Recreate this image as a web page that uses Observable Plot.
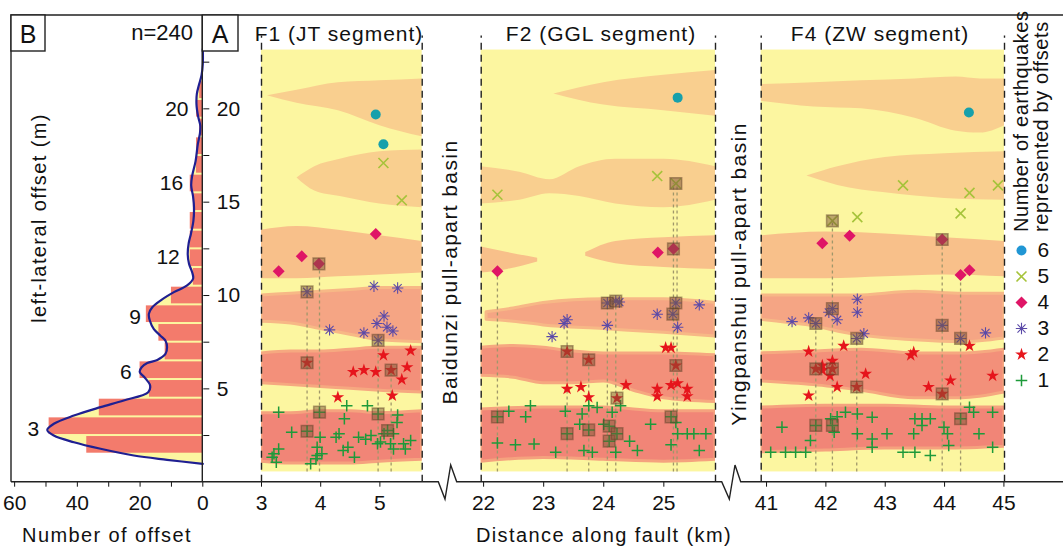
<!DOCTYPE html>
<html><head><meta charset="utf-8">
<script src="https://cdn.jsdelivr.net/npm/d3@7"></script>
<script src="https://cdn.jsdelivr.net/npm/@observablehq/plot@0.6"></script>
<style>
body{margin:0;background:#fff;}
#fig{position:relative;width:1063px;height:547px;overflow:hidden;background:#fff;}
</style></head>
<body><div id="fig"></div>
<script>
// ================= DATA =================
// Panel B: histogram of offsets (1-m bins centred on integer offsets)
const binOffsets = [2,3,4,5,6,7,8,9,10,11,12,13,14,15,16,17,18,19,20,21];
const binCounts  = [37,49,33,17,20,12,14,18,10,3,4,4,4,3,4,2,2,1,2,1];
// Panel B: cumulative-offset probability curve (offset m, count scale)
const curveOffset = [0.98,1.2,1.43,1.79,2.14,2.5,2.8,3.13,3.57,4.02,4.38,4.82,5.18,5.62,5.9,6.16,6.38,6.55,6.87,7.23,7.58,7.85,8.2,8.66,9.02,9.37,9.73,10.18,10.54,10.9,11.25,11.7,12.2,12.8,13.3,14.0,14.7,15.3,15.9,16.4,17.2,18.1,18.7,19.1,19.6,20.2,20.8,21.3,21.8,22.4,23.2];
const curveCount  = [0,11.4,22,32.6,41.1,47.5,49.6,47.5,41.1,32.6,25.2,17.4,16.8,18.6,20.1,19.5,17.7,14.5,11.9,11.4,11.9,13.5,15.6,16.9,17.2,16.1,13.5,9.2,5.0,3.1,3.4,4.4,4.8,4.5,3.8,3.0,2.8,3.1,3.7,3.4,2.3,1.6,0.9,0.8,1.5,2.0,1.9,1.2,0.4,0,0];
const peakLabels  = ["3","6","9","12","16","20"];
const peakOffsets = [2.85,5.9,8.85,12.05,16.0,20.0];
const peakCounts  = [49.6,20.1,17.2,4.8,3.7,2.0];
const sampleSize = 240;

// Panel A: segments
const segNames = ["F1 (JT segment)","F2 (GGL segment)","F4 (ZW segment)"];
const segStart = [3.0, 21.96, 40.91];
const segEnd   = [5.715, 25.86, 45.01];
const segTicks = [[3,4,5],[22,23,24,25],[41,42,43,44,45]];
const mapBottom = 0.55, mapTop = 23.15, dashTop = 23.9;

// density bands: [km, lower offset, upper offset]
const f1Bands = [
 {level:"o1", pts:[[3.1,20.7,20.7],[3.6,20.3,21.0],[4.3,19.9,21.4],[5.0,19.1,21.5],[5.715,18.5,21.6]]},
 {level:"o1", pts:[[3.6,16.3,16.3],[3.9,15.6,16.9],[4.33,15.3,17.3],[5.0,14.9,17.7],[5.715,14.7,17.8]]},
 {level:"o2", pts:[[3.0,10.9,13.5],[3.6,10.9,13.7],[4.3,11.0,13.5],[5.0,11.1,13.2],[5.715,11.2,12.9]]},
 {level:"o3", pts:[[3.0,8.6,10.0],[3.5,8.5,10.1],[4.0,8.2,10.2],[4.5,7.9,10.3],[5.0,7.6,10.4],[5.715,7.5,10.4]]},
 {level:"r1", pts:[[3.0,5.3,6.9],[3.5,5.2,7.0],[4.0,5.1,7.0],[4.5,5.0,7.1],[5.0,4.9,7.2],[5.715,4.8,7.2]]},
 {level:"r2", pts:[[3.0,1.1,3.7],[3.5,1.0,3.7],[4.0,1.0,3.8],[4.5,1.0,3.8],[5.0,1.1,3.7],[5.715,1.2,3.8]]}
];
const f2Bands = [
 {level:"o1", pts:[[23.17,20.8,20.8],[24.0,20.2,21.4],[25.0,19.9,21.8],[25.86,19.6,22.05]]},
 {level:"o1", pts:[[21.96,14.9,16.9],[22.6,15.1,16.6],[23.1,15.45,16.2],[23.6,15.3,16.9],[24.2,14.9,17.3],[25.0,14.7,17.3],[25.86,15.1,16.9]]},
 {level:"o2", pts:[[21.96,11.2,12.6],[22.4,11.4,12.3],[22.9,11.8,12.0]]},
 {level:"o2", pts:[[23.7,12.1,12.3],[24.2,11.7,12.9],[25.0,11.5,13.1],[25.86,11.4,13.2]]},
 {level:"o3", pts:[[22.05,8.7,9.1],[22.5,8.6,9.3],[23.0,8.4,9.6],[24.0,8.2,9.8],[25.0,8.0,9.8],[25.86,7.8,9.6]]},
 {level:"r1", pts:[[21.96,5.7,7.2],[22.5,5.6,7.3],[23.0,5.3,7.2],[23.5,5.3,7.0],[24.0,5.4,6.9],[24.5,4.9,6.9],[25.0,4.5,6.9],[25.86,4.3,6.8]]},
 {level:"r2", pts:[[21.96,1.1,3.9],[23.0,1.3,4.0],[24.0,1.2,4.0],[25.0,1.1,3.8],[25.86,1.2,3.8]]}
];
const f4Bands = [
 {level:"o1", pts:[[40.91,20.4,21.3],[41.8,20.1,21.4],[42.6,20.0,21.5],[43.5,19.5,21.6],[44.2,18.8,21.7],[44.6,18.7,21.6],[45.01,19.1,21.6]]},
 {level:"o1", pts:[[41.68,16.4,16.4],[42.2,15.9,16.9],[43.0,15.5,17.4],[44.0,15.2,17.6],[45.01,15.1,17.7]]},
 {level:"o2", pts:[[40.91,10.9,13.2],[42.0,10.9,13.4],[43.0,11.0,13.3],[44.0,11.1,13.1],[45.01,11.0,12.9]]},
 {level:"o3", pts:[[40.91,8.7,10.0],[41.7,8.4,10.0],[42.5,7.9,10.0],[43.5,7.6,10.2],[44.3,7.5,10.1],[45.01,7.7,10.1]]},
 {level:"r1", pts:[[40.91,5.4,6.9],[41.8,5.2,7.0],[42.6,4.9,7.1],[43.5,4.5,6.9],[44.3,4.5,6.9],[45.01,4.8,7.1]]},
 {level:"r2", pts:[[40.91,1.6,4.0],[42.0,1.7,4.1],[43.0,1.8,4.1],[44.0,1.8,4.0],[45.01,1.9,4.0]]}
];

// offsets: [km, offset m, number of earthquakes]
const f1Offsets = [
 [4.93,19.7,6],[5.06,18.1,6],
 [5.06,17.1,5],[5.37,15.1,5],
 [4.93,13.3,4],[3.68,12.1,4],[3.97,11.7,4],[3.29,11.3,4],
 [3.77,10.2,3],[4.90,10.5,3],[5.30,10.4,3],[4.15,8.16,3],[5.07,8.9,3],[4.95,8.5,3],[5.12,8.3,3],[5.22,8.1,3],[4.73,8.0,3],[4.97,7.6,3],
 [3.77,6.4,2],[5.06,6.8,2],[5.52,7.05,2],[4.55,5.9,2],[4.73,6.0,2],[4.93,5.9,2],[5.19,6.0,2],[5.46,6.16,2],[5.37,5.5,2],[4.29,4.55,2],[5.21,4.64,2],
 [3.29,3.75,1],[3.98,3.75,1],[4.44,4.1,1],[4.79,4.1,1],[4.97,3.66,1],[4.40,3.4,1],[5.30,3.6,1],[5.29,3.2,1],[3.77,2.73,1],[3.51,2.68,1],
 [3.99,2.41,1],[4.26,2.41,1],[4.31,2.59,1],[4.64,2.41,1],[4.76,2.3,1],[4.85,2.5,1],[4.96,2.06,1],[5.07,2.59,1],[5.13,2.77,1],[5.23,2.59,1],
 [5.23,1.78,1],[5.40,2.06,1],[5.52,2.23,1],[5.43,1.78,1],[4.46,1.87,1],[4.57,1.34,1],[4.38,1.70,1],[3.94,1.87,1],[3.94,1.43,1],[4.02,1.52,1],
 [3.92,1.25,1],[3.83,0.99,1],[3.21,1.52,1],[3.29,1.78,1],[3.18,1.34,1],[3.25,1.07,1],[5.18,2.06,1],[5.01,2.15,1]
];
const f1Boxes = [[3.77,10.2],[3.77,6.4],[3.98,3.75],[4.97,3.66],[3.77,2.73],[4.97,7.6],[5.19,6.0],[5.13,2.77],[3.97,11.7]];
const f1Links = [[3.77,10.2],[3.98,11.7],[4.97,7.6],[5.19,6.0]];

const f2Offsets = [
 [25.23,20.6,6],
 [24.89,16.4,5],[22.23,15.4,5],[25.20,16.0,5],
 [22.23,11.3,4],[24.90,12.3,4],[25.16,12.5,4],
 [24.06,9.6,3],[24.20,9.7,3],[24.26,9.65,3],[25.20,9.6,3],[25.15,9.0,3],[25.59,9.5,3],[24.89,9.0,3],[23.39,8.7,3],[23.34,8.5,3],[24.06,8.4,3],[25.23,8.3,3],[23.14,7.8,3],
 [23.39,7.0,2],[23.75,6.56,2],[25.03,7.2,2],[25.12,7.2,2],[25.20,6.25,2],[23.39,5.0,2],[23.62,5.1,2],[23.75,4.55,2],[24.22,4.5,2],[24.37,5.2,2],[24.89,5.0,2],[24.89,4.6,2],[25.12,5.2,2],[25.23,5.3,2],[25.39,5.0,2],[25.39,4.6,2],
 [22.23,3.5,1],[22.42,3.8,1],[22.70,3.5,1],[22.78,4.1,1],[22.23,2.1,1],[22.53,2.0,1],[22.84,2.05,1],[23.20,1.6,1],[23.36,3.8,1],[23.64,3.66,1],
 [23.75,4.1,1],[23.89,4.0,1],[23.60,3.1,1],[23.39,2.6,1],[23.75,2.8,1],[23.67,1.7,1],[23.81,1.6,1],[24.00,3.1,1],[24.09,3.0,1],[24.14,3.75,1],
 [24.28,4.1,1],[24.09,2.2,1],[24.22,2.6,1],[24.43,2.2,1],[24.56,1.7,1],[24.20,1.6,1],[24.78,3.1,1],[25.12,3.5,1],[25.20,3.2,1],[25.23,2.6,1],
 [25.39,2.6,1],[25.50,2.6,1],[25.70,2.6,1],[25.12,2.0,1],[25.59,1.7,1]
];
const f2Boxes = [[24.06,9.6],[24.20,9.7],[25.20,9.6],[25.15,9.0],[23.39,7.0],[23.75,6.56],[25.20,6.25],[24.22,4.5],[22.23,3.5],[23.39,2.6],[23.75,2.8],[24.09,3.0],[24.09,2.2],[24.22,2.6],[25.12,3.5],[25.20,16.0],[25.16,12.5]];
const f2Links = [[22.23,11.3],[23.39,8.7],[23.75,6.56],[24.06,9.6],[24.20,9.7],[25.16,16.0],[25.22,16.0]];

const f4Offsets = [
 [44.41,19.8,6],
 [43.30,15.9,5],[44.42,15.5,5],[44.90,15.9,5],[44.27,14.4,5],[42.53,14.2,5],[42.11,14.0,5],
 [41.94,12.8,4],[42.40,13.2,4],[43.96,13.0,4],[44.27,11.1,4],[44.42,11.35,4],
 [42.53,9.8,3],[42.53,9.1,3],[42.11,9.3,3],[42.05,9.1,3],[41.71,8.8,3],[41.83,8.5,3],[41.43,8.6,3],[42.19,8.7,3],[42.52,7.7,3],[42.64,7.95,3],[43.96,8.4,3],[44.27,7.7,3],[44.69,8.0,3],
 [41.71,7.0,2],[42.30,7.3,2],[41.94,6.25,2],[41.83,6.07,2],[42.11,6.5,2],[42.11,6.07,2],[42.07,5.7,2],[41.94,6.0,2],[42.19,5.1,2],[42.67,5.8,2],
 [42.52,5.1,2],[41.71,4.64,2],[43.43,6.8,2],[43.48,6.96,2],[43.73,5.1,2],[43.96,4.73,2],[44.10,5.45,2],[44.42,7.3,2],[44.81,5.7,2],
 [41.26,2.95,1],[41.07,1.6,1],[41.32,1.61,1],[41.49,1.6,1],[41.66,1.6,1],[41.74,2.23,1],[41.83,3.04,1],[42.08,3.40,1],[42.11,3.04,1],[42.14,2.68,1],
 [42.19,3.5,1],[42.33,3.75,1],[42.53,3.66,1],[42.53,2.59,1],[42.78,3.48,1],[42.78,2.32,1],[42.78,1.87,1],[43.03,2.6,1],[43.30,1.61,1],[43.48,2.59,1],
 [43.50,3.4,1],[43.62,3.4,1],[43.62,3.04,1],[43.76,3.4,1],[43.50,1.61,1],[43.76,1.43,1],[43.99,2.95,1],[44.05,2.59,1],[44.07,1.97,1],[44.27,3.4,1],
 [44.42,4.02,1],[44.49,3.75,1],[44.58,2.59,1],[44.81,3.75,1],[44.81,1.87,1]
];
const f4Boxes = [[42.11,14.0],[43.96,13.0],[42.11,9.3],[41.83,8.5],[42.52,7.7],[43.96,8.4],[44.27,7.7],[41.83,6.07],[42.11,6.07],[42.52,5.1],[43.96,4.73],[41.83,3.04],[42.11,3.04],[44.27,3.4]];
const f4Links = [[41.83,8.5],[42.11,14.0],[42.52,7.7],[43.96,13.0],[44.27,11.1]];

const legendLevels = ["6","5","4","3","2","1"];

// ================= STYLE =================
const FONT = '"Liberation Sans", Arial, Helvetica, sans-serif';
const YEL = "#fcf6a0", BAR = "#f37b6c";
const BAND = {o1:"#f9cf8f", o2:"#f8c08a", o3:"#f5a584", r1:"#f3907a", r2:"#f18577"};
const HALO = {o1:"none", o2:"none", o3:"#f7b886", r1:"#f6a880", r2:"#f5a27e"};
// eight-armed asterisk symbol
const asterisk8 = {draw(ctx, size){
  const r = Math.sqrt(size/Math.PI)*0.95, d = r*Math.SQRT1_2;
  ctx.moveTo(-r,0); ctx.lineTo(r,0); ctx.moveTo(0,-r); ctx.lineTo(0,r);
  ctx.moveTo(-d,-d); ctx.lineTo(d,d); ctx.moveTo(-d,d); ctx.lineTo(d,-d);
}};
const EQ = {
  6:{symbol:"circle", r:5, fill:"#17a0ab", stroke:"none"},
  5:{symbol:"times", r:4.6, fill:"none", stroke:"#a6c33a", strokeWidth:1.6},
  4:{symbol:"diamond2", r:5.4, fill:"#df1566", stroke:"none"},
  3:{symbol:asterisk8, r:6.0, fill:"none", stroke:"#5b4aa8", strokeWidth:1.1},
  2:{symbol:"star", r:4.0, fill:"#e6151c", stroke:"none"},
  1:{symbol:"plus", r:3.8, fill:"none", stroke:"#1d9a3a", strokeWidth:1.5}
};
const H = 547, MT = 15, MB = 65.3;
const baseStyle = {fontFamily: FONT, fontSize:"21px", color:"#111", background:"transparent", overflow:"visible"};
const fig = document.getElementById("fig");
function place(svg, left){ svg.style.position="absolute"; svg.style.left=left+"px"; svg.style.top="0px"; svg.style.maxWidth="none"; fig.appendChild(svg); }

// ================= PANEL B =================
const hist = binOffsets.map((o,i)=>({o, c:binCounts[i]}));
const dens = curveOffset.map((o,i)=>({o, c:curveCount[i]}));
const peaks = peakLabels.map((t,i)=>({t, o:peakOffsets[i], c:peakCounts[i]}));
place(Plot.plot({
  width:260, height:H, marginLeft:11, marginRight:57.7, marginTop:MT, marginBottom:MB,
  style: baseStyle,
  x:{domain:[61,0]}, y:{domain:[0,25]},
  marks:[
    Plot.areaX(dens,{y:"o", x:"c", fill:YEL, curve:"catmull-rom"}),
    Plot.rectX(hist,{y1:d=>d.o-0.5, y2:d=>d.o+0.5, x1:()=>0, x2:"c", fill:BAR, insetTop:1, insetBottom:1}),
    Plot.lineX(dens,{y:"o", x:"c", stroke:"#1f1f92", strokeWidth:2.2, curve:"catmull-rom"}),
    Plot.text(peaks,{x:"c", y:"o", text:"t", textAnchor:"end", dx:-8}),
    Plot.axisX({ticks:[0,10,20,30,40,50,60], tickFormat:d=>d%20===0?String(d):"", tickSize:5, tickPadding:8, label:null}),
    Plot.axisY({anchor:"right", ticks:[5,10,15,20], tickSize:6, tickPadding:8, label:null}),
    Plot.axisY({anchor:"right", ticks:[2.5,7.5,12.5,17.5,22.5], tickSize:6, tickFormat:()=>"", label:null})
  ]
}), 0);

// ================= PANEL A segments =================
function segmentChart(k, left, width, mL, mR, bands, offs, boxes, links){
  const marks = [];
  marks.push(Plot.rect([k],{x1:()=>segStart[k], x2:()=>segEnd[k], y1:()=>mapBottom, y2:()=>mapTop, fill:YEL}));
  bands.forEach(b=>{
    marks.push(Plot.areaY(b.pts,{x:d=>d[0], y1:d=>d[1], y2:d=>d[2], fill:BAND[b.level],
      stroke:HALO[b.level], strokeWidth:3, curve:"monotone-x", clip:true}));
  });
  marks.push(Plot.ruleX([segStart[k], segEnd[k]],{y1:()=>0, y2:()=>dashTop, stroke:"#222", strokeWidth:1.4, strokeDasharray:"7,5"}));
  marks.push(Plot.ruleX(links,{x:d=>d[0], y1:()=>mapBottom, y2:d=>d[1], stroke:"#a0976a", strokeWidth:1.3, strokeDasharray:"3,3"}));
  [1,2,3,4,5,6].forEach(n=>{
    marks.push(Plot.dot(offs.filter(d=>d[2]===n),{x:d=>d[0], y:d=>d[1], ...EQ[n]}));
  });
  marks.push(Plot.dot(boxes,{x:d=>d[0], y:d=>d[1], symbol:"square", r:6.6, fill:"#7b5536", fillOpacity:0.5, stroke:"#5b3d26", strokeOpacity:0.45}));
  marks.push(Plot.axisX({ticks:segTicks[k], tickFormat:d=>String(d), tickSize:5, tickPadding:8, label:null}));
  place(Plot.plot({
    width, height:H, marginLeft:mL, marginRight:mR, marginTop:MT, marginBottom:MB,
    style: baseStyle,
    x:{domain:[segStart[k], segEnd[k]]}, y:{domain:[0,25], axis:null},
    marks
  }), left);
}
segmentChart(0, 240, 200, 21, 18.3, f1Bands, f1Offsets, f1Boxes, f1Links);
segmentChart(1, 460, 270, 20.7, 15, f2Bands, f2Offsets, f2Boxes, f2Links);
segmentChart(2, 740, 280, 20.7, 16, f4Bands, f4Offsets, f4Boxes, f4Links);

// ================= LEGEND =================
place(Plot.plot({
  width:58, height:H, margin:0, style: baseStyle,
  x:{domain:[0,1], range:[16,32], axis:null},
  y:{type:"point", domain:legendLevels, range:[250,380], padding:0, axis:null},
  marks:[
    ...legendLevels.map(n=>Plot.dot([n],{x:()=>0, y:d=>d, ...EQ[+n], ...(n==="6"?{fill:"#2096d4"}:{})})),
    Plot.text(legendLevels,{x:()=>1, y:d=>d, text:d=>d, textAnchor:"start"})
  ]
}), 1005);

// ================= FRAME & TEXT =================
const ov = d3.select(fig).append("svg").attr("width",1063).attr("height",547)
  .style("position","absolute").style("left","0").style("top","0").style("font-family",FONT).attr("fill","#111");
const ln = (d,w)=>ov.append("path").attr("d",d).attr("fill","none").attr("stroke","#222").attr("stroke-width",w||1.4);
ln("M11,481.7V15H1063");
ln("M202.3,15V481.7");
ln("M11,481.7H438.3L445,499L450.7,465L456.7,481.7H721.7L729.3,499L735,465L740.7,481.7H1063");
ov.append("rect").attr("x",11).attr("y",15).attr("width",34).attr("height",36).attr("fill","#fff").attr("stroke","#222").attr("stroke-width",1.4);
ov.append("rect").attr("x",202.3).attr("y",15).attr("width",35.7).attr("height",36).attr("fill","#fff").attr("stroke","#222").attr("stroke-width",1.4);
const tx = (x,y,s,size,anchor,ls,rot)=>{
  const t = ov.append("text").attr("font-size",size).attr("text-anchor",anchor||"middle").style("letter-spacing",(ls||0)+"px").text(s);
  if(rot){ t.attr("transform",`translate(${x},${y}) rotate(-90)`).attr("dominant-baseline", rot==="c"?"central":"auto"); }
  else t.attr("x",x).attr("y",y);
  return t;
};
tx(28,42.5,"B",25);
tx(220,42.5,"A",25);
tx(193,39.5,"n="+sampleSize,22,"end");
tx(339,41,segNames[0],21,"middle",1);
tx(601,41,segNames[1],21,"middle",1);
tx(880,41,segNames[2],21,"middle",1);
tx(107,542,"Number of offset",20,"middle",1.4);
tx(604,542,"Distance along fault (km)",20,"middle",1.4);
tx(38.5,218,"left-lateral offset (m)",20,"middle",1.4,"c");
tx(449,272,"Baidunzi pull-apart basin",21,"middle",1.4,"c");
tx(738,274,"Yingpanshui pull-apart basin",21,"middle",1.4,"c");
tx(1021,232,"Number of earthquakes",20,"start",0.6,"c");
tx(1041,232,"represented by offsets",20,"start",0.6,"c");
</script></body></html>
